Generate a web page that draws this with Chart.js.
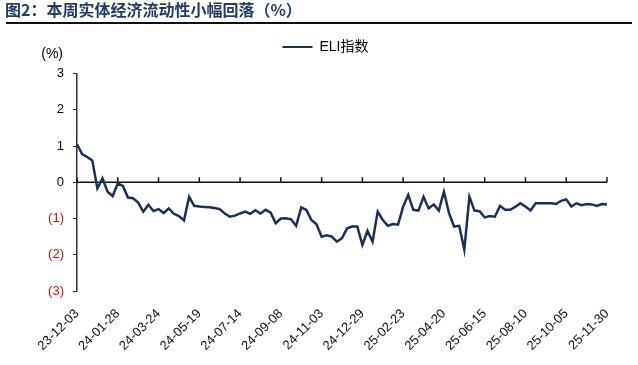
<!DOCTYPE html>
<html>
<head>
<meta charset="utf-8">
<script src="https://cdn.jsdelivr.net/npm/chart.js@4.4.1/dist/chart.umd.min.js"></script>
<style>
  body { margin: 0; background: #fff; }
  #wrap { width: 638px; height: 365px; position: relative; }
</style>
</head>
<body>
<div id="wrap"><canvas id="eliChart"></canvas></div>
<script>
// 图2：ELI指数（周度）
const chartTitle = '图2：本周实体经济流动性小幅回落（%）';
const seriesName = 'ELI指数';
const firstWeek = [2023, 12, 3];
const weekCount = 105;
const tickLabels = ['23-12-03', '24-01-28', '24-03-24', '24-05-19', '24-07-14', '24-09-08', '24-11-03',
  '24-12-29', '25-02-23', '25-04-20', '25-06-15', '25-08-10', '25-10-05', '25-11-30'];
const eliValues = [
  1.05, 0.78, 0.70, 0.60, -0.17, 0.11, -0.26, -0.38, -0.03, -0.10,
  -0.42, -0.44, -0.56, -0.81, -0.62, -0.79, -0.74, -0.85, -0.72, -0.87,
  -0.93, -1.05, -0.40, -0.65, -0.67, -0.68, -0.69, -0.71, -0.74, -0.86,
  -0.95, -0.92, -0.86, -0.81, -0.87, -0.77, -0.86, -0.76, -0.84, -1.13,
  -1.00, -0.99, -1.02, -1.20, -0.69, -0.76, -1.04, -1.16, -1.50, -1.46,
  -1.50, -1.64, -1.54, -1.27, -1.22, -1.22, -1.73, -1.34, -1.64, -0.81,
  -1.04, -1.20, -1.15, -1.17, -0.67, -0.35, -0.76, -0.78, -0.40, -0.72,
  -0.61, -0.78, -0.26, -0.85, -1.22, -1.20, -1.86, -0.40, -0.78, -0.80,
  -0.97, -0.93, -0.95, -0.65, -0.76, -0.76, -0.68, -0.58, -0.67, -0.78,
  -0.58, -0.58, -0.58, -0.58, -0.60, -0.51, -0.47, -0.67, -0.58, -0.63,
  -0.60, -0.61, -0.65, -0.60, -0.61
];
const yMin = -3;
const yMax = 3;

// 周度日期标签 yy-mm-dd
const pad2 = n => String(n).padStart(2, '0');
const weekLabels = [];
for (let i = 0; i < weekCount; i++) {
  const d = new Date(Date.UTC(firstWeek[0], firstWeek[1] - 1, firstWeek[2] + i * 7));
  weekLabels.push(pad2(d.getUTCFullYear() % 100) + '-' + pad2(d.getUTCMonth() + 1) + '-' + pad2(d.getUTCDate()));
}

const lineColor = '#1d2f52';

const decorPlugin = {
  id: 'decor',
  beforeDraw(chart) {
    const c = chart.ctx;
    c.save();
    c.fillStyle = '#233a64';
    c.font = 'bold 16px "Noto Sans CJK SC"';
    c.textBaseline = 'middle';
    c.fillText(chartTitle, 5, 10);
    c.fillStyle = '#111';
    c.fillRect(6, 22, 626, 2);
    c.fillStyle = '#000';
    c.font = '14px "Liberation Sans", Arial';
    c.textAlign = 'right';
    c.fillText('(%)', 63, 54);
    c.restore();
  },
  beforeDatasetsDraw(chart) {
    // 零轴及向上刻度
    const c = chart.ctx;
    const x = chart.scales.x;
    const y0 = chart.scales.y.getPixelForValue(0);
    c.save();
    c.strokeStyle = '#111';
    c.lineWidth = 1.5;
    c.beginPath();
    c.moveTo(chart.chartArea.left, y0);
    c.lineTo(chart.chartArea.right, y0);
    weekLabels.forEach((lab, i) => {
      if (tickLabels.includes(lab)) {
        const px = x.getPixelForValue(i);
        c.moveTo(px, y0);
        c.lineTo(px, y0 - 5);
      }
    });
    c.stroke();
    c.restore();
  }
};

const ctx = document.getElementById('eliChart').getContext('2d');

const config = {
  type: 'line',
  data: {
    labels: weekLabels,
    datasets: [{
      label: seriesName,
      data: eliValues,
      borderColor: lineColor,
      backgroundColor: lineColor,
      borderWidth: 2.5,
      pointRadius: 0,
      tension: 0
    }]
  },
  options: {
    responsive: true,
    maintainAspectRatio: false,
    animation: false,
    layout: { padding: { left: 44, right: 31, top: 22, bottom: 0 } },
    plugins: {
      legend: {
        position: 'top',
        weight: 1600,
        labels: {
          boxWidth: 30,
          boxHeight: 2,
          padding: 18,
          color: '#000',
          font: { size: 14, family: '"Liberation Sans", "Noto Sans CJK SC"' },
          generateLabels(chart) {
            const items = Chart.defaults.plugins.legend.labels.generateLabels(chart);
            items.forEach(it => { it.lineWidth = 0; });
            return items;
          }
        }
      },
      // 图例与绘图区之间留白
      subtitle: {
        display: true,
        text: ' ',
        position: 'top',
        padding: 0,
        font: { size: 8 }
      },
      tooltip: { enabled: false }
    },
    scales: {
      x: {
        grid: { display: false },
        border: { display: false },
        ticks: {
          autoSkip: false,
          maxRotation: 45,
          minRotation: 45,
          padding: 7,
          color: '#111',
          font: { size: 13, family: '"Liberation Sans", Arial' },
          callback(value, index) {
            const lab = weekLabels[index];
            return tickLabels.includes(lab) ? lab : '';
          }
        },
        afterFit(scale) { scale.height = 74; }
      },
      y: {
        min: yMin,
        max: yMax,
        grid: { display: true, drawOnChartArea: false, drawTicks: true, tickLength: 4, color: '#333' },
        border: { display: true, color: '#333', width: 1.5 },
        ticks: {
          stepSize: 1,
          padding: 9,
          font: { size: 13, family: '"Liberation Sans", Arial' },
          color: c => c.tick.value < 0 ? '#c0151b' : '#000',
          callback: v => v < 0 ? '(' + Math.abs(v) + ')' : String(v)
        },
        afterFit(scale) { scale.width = 33; }
      }
    }
  },
  plugins: [decorPlugin]
};

const eliChart = new Chart(ctx, config);
</script>
</body>
</html>
